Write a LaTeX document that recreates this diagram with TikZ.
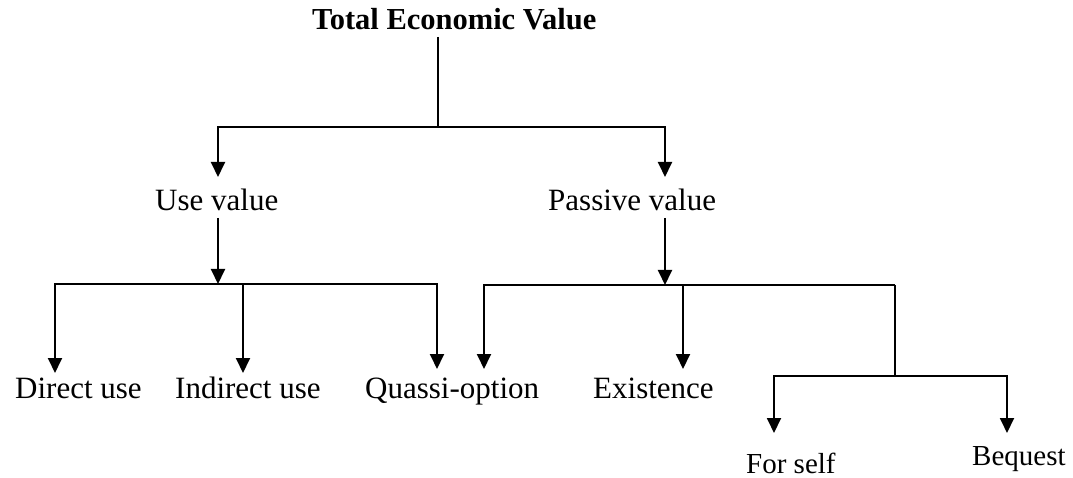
\documentclass[tikz,border=0pt]{standalone}
\usepackage{fontspec}
\setmainfont{Liberation Serif}
\usetikzlibrary{arrows.meta}
\begin{document}
\begin{tikzpicture}[x=1pt,y=-1pt,
  ln/.style={line width=1.9pt},
  thin/.style={line width=1.4pt},
  arr/.style={ln,-{Triangle[width=14pt,length=15pt]}},
  lbl/.style={inner sep=0pt,anchor=base west,font=\fontsize{31}{36}\selectfont},
  sml/.style={lbl,font=\fontsize{29}{34}\selectfont},
  ttl/.style={lbl,font=\fontsize{30.5}{36}\selectfont\bfseries}]
\useasboundingbox (0,0) rectangle (1073,478);
% labels
\node[ttl] (tev) at (312,30) {Total Economic Value};
\node[lbl] (use) at (155,211) {Use value};
\node[lbl] (pas) at (548,211) {Passive value};
\node[lbl] (dir) at (15,398) {Direct use};
\node[lbl] (ind) at (175,398) {Indirect use};
\node[lbl] (qua) at (365,398) {Quassi-option};
\node[lbl] (exi) at (593,398) {Existence};
\node[sml] (fse) at (746,473) {For self};
\node[sml] (beq) at (972,465) {Bequest};
% junctions and arrow ends
\coordinate (t0) at (438,37);
\coordinate (j0) at (438,127);
\coordinate (useIn) at (218,177);
\coordinate (pasIn) at (665,177);
\coordinate (useOut) at (218,218);
\coordinate (j1) at (218,284);
\coordinate (dirIn) at (55,373);
\coordinate (indIn) at (243,373);
\coordinate (quaInA) at (437,369);
\coordinate (pasOut) at (665,218);
\coordinate (j2) at (665,285);
\coordinate (quaInB) at (484,369);
\coordinate (exiIn) at (683,369);
\coordinate (j3) at (895,376);
\coordinate (fseIn) at (774,433);
\coordinate (beqIn) at (1007,433);
% connectors
\draw[thin] (t0) -- (j0);
\draw[arr] (j0) -| (useIn);
\draw[arr] (j0) -| (pasIn);
\draw[arr] (useOut) -- (j1);
\draw[arr] (j1) -| (dirIn);
\draw[arr] (j1) -| (quaInA);
\draw[arr] (j1 -| indIn) -- (indIn);
\draw[arr] (pasOut) -- (j2);
\draw[arr] (j2) -| (quaInB);
\draw[ln] (j2) -- (j2 -| j3);
\draw[thin] (j2 -| j3) -- (j3);
\draw[arr] (j2 -| exiIn) -- (exiIn);
\draw[arr] (j3) -| (fseIn);
\draw[arr] (j3) -| (beqIn);
\end{tikzpicture}
\end{document}
